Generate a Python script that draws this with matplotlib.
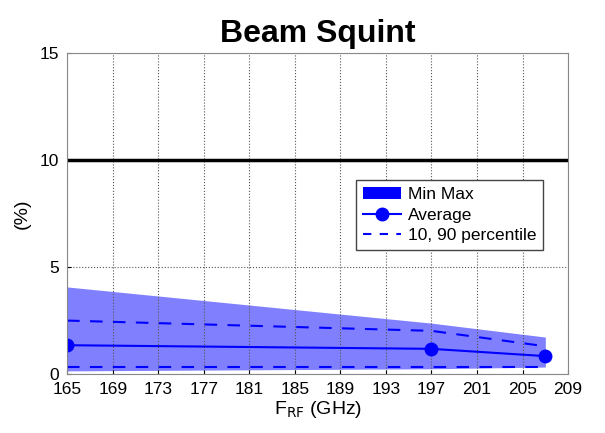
import matplotlib.pyplot as plt
from matplotlib.patches import Patch
from matplotlib.lines import Line2D

plt.rcParams['font.family'] = ['Liberation Sans', 'DejaVu Sans']

freq = [165, 197, 207]
v_min = [0.15, 0.25, 0.33]
v_max = [4.07, 2.38, 1.73]
p10 = [0.33, 0.33, 0.33]
p90 = [2.5, 2.02, 1.3]
avg = [1.35, 1.18, 0.84]
limit = 10

xticks = list(range(165, 210, 4))
yticks = [0, 5, 10, 15]

fig = plt.figure(figsize=(6.05, 4.33), dpi=100)
ax = fig.add_axes([0.111, 0.136, 0.828, 0.742])

ax.fill_between(freq, v_min, v_max, color='#8080ff', linewidth=0)
ax.plot(freq, avg, color='#0000ff', marker='o', markersize=9, linewidth=1.5)
ax.plot(freq, p90, color='#0000ff', linestyle=(0, (6, 5)), linewidth=1.5)
ax.plot(freq, p10, color='#0000ff', linestyle=(0, (6, 5)), linewidth=1.5)
ax.axhline(limit, color='black', linewidth=2.5)

ax.set_xlim(165, 209)
ax.set_ylim(0, 15)
ax.set_xticks(xticks)
ax.set_yticks(yticks)
ax.tick_params(labelsize=12.5, direction='in', length=3)
ax.tick_params(axis='y', pad=6)
ax.tick_params(axis='x', pad=6)
ax.grid(True, linestyle=':', color='#555555', linewidth=0.8)
for s in ax.spines.values():
    s.set_color('#888888')

ax.set_title('Beam Squint', fontsize=23, fontweight='bold', pad=8)
ax.set_xlabel(r'F$_{\mathrm{RF}}$ (GHz)', fontsize=14, labelpad=1)
ax.set_ylabel('(%)', fontsize=14, labelpad=6)

handles = [
    Patch(facecolor='#0000ff', edgecolor='none', label='Min Max'),
    Line2D([], [], color='#0000ff', marker='o', markersize=9, linewidth=1.5, label='Average'),
    Line2D([], [], color='#0000ff', linestyle=(0, (4, 4)), linewidth=1.5, label='10, 90 percentile'),
]
leg = ax.legend(handles=handles, loc='upper right', bbox_to_anchor=(0.968, 0.63), fontsize=12.5,
                fancybox=False, framealpha=1, edgecolor='#444444',
                handlelength=2.2, borderpad=0.4, labelspacing=0.3, handletextpad=0.4)

fig.savefig('out.png', dpi=100)
